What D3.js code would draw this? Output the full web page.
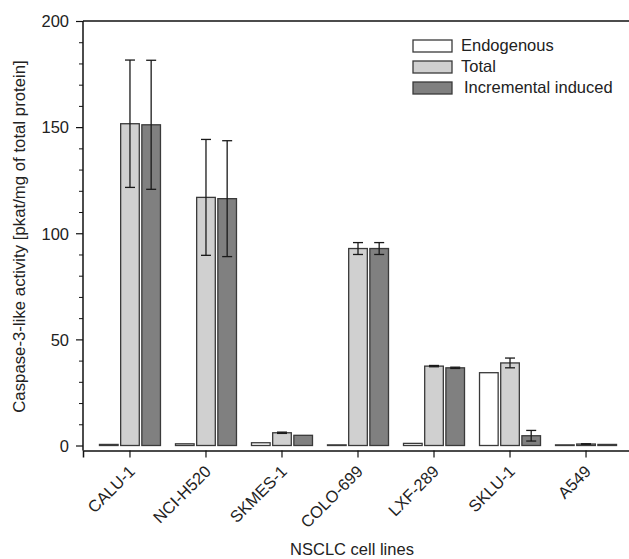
<!DOCTYPE html>
<html>
<head>
<meta charset="utf-8">
<script src="https://cdn.jsdelivr.net/npm/d3@7"></script>
<style>
  body { margin: 0; background: #fff; }
  text { font-family: "Liberation Sans", Arial, sans-serif; fill: #222; }
</style>
</head>
<body>
<div id="chart"></div>
<script>
// data
var cellLines = ["CALU-1", "NCI-H520", "SKMES-1", "COLO-699", "LXF-289", "SKLU-1", "A549"];
var seriesNames = ["Endogenous", "Total", "Incremental induced"];
var endogenous = [0.5, 0.8, 1.3, 0.3, 1.0, 34.3, 0.3];
var endogenousErr = [0, 0, 0, 0, 0, 0, 0];
var total = [151.6, 116.9, 6.0, 92.8, 37.4, 38.9, 0.7];
var totalErr = [30, 27.3, 0.3, 2.8, 0.3, 2.3, 0.1];
var induced = [151.1, 116.3, 4.8, 92.8, 36.6, 4.6, 0.5];
var inducedErr = [30.4, 27.3, 0, 2.8, 0.3, 2.5, 0];
var yTicks = [0, 50, 100, 150, 200];

var seriesValues = [endogenous, total, induced];
var seriesErrors = [endogenousErr, totalErr, inducedErr];
var fills = ["#ffffff", "#d0d0d0", "#808080"];

var svgWidth = 629;
var svgHeight = 559;

var margin = { top: 21, left: 83, bottom: 113.5 };
var plotBottom = svgHeight - margin.bottom;   // y of value 0

var svg = d3.select("#chart")
  .append("svg")
  .attr("width", svgWidth)
  .attr("height", svgHeight);

// scales
var x0 = d3.scaleBand()
  .domain(cellLines)
  .range([margin.left, 633])
  .paddingInner(0)
  .paddingOuter(0.118);

var x1 = d3.scaleBand()
  .domain(d3.range(3))
  .range([-30.5, 30.5])
  .paddingInner(0.12);

var y = d3.scaleLinear()
  .domain([0, 200])
  .range([plotBottom, margin.top]);

// top frame line
svg.append("line")
  .attr("x1", margin.left).attr("x2", svgWidth)
  .attr("y1", y(200)).attr("y2", y(200))
  .attr("stroke", "#111").attr("stroke-width", 1.5);

// y axis, major + minor ticks
var yAxis = svg.append("g")
  .attr("transform", `translate(${margin.left},0)`)
  .call(d3.axisLeft(y).tickValues(yTicks).tickSize(7).tickSizeOuter(0).tickPadding(7));

yAxis.select(".domain")
  .attr("d", `M0,${y(200)}V${plotBottom + 5}`)
  .attr("stroke", "#111").attr("stroke-width", 1.5);
yAxis.selectAll(".tick line").attr("stroke", "#111").attr("stroke-width", 1.2);
yAxis.selectAll(".tick text")
  .style("font-size", "16.5px")
  .attr("dy", "0.35em");

var minorTicks = d3.range(0, 201, 10).filter(d => d % 50 !== 0);
svg.append("g")
  .attr("transform", `translate(${margin.left},0)`)
  .call(d3.axisLeft(y).tickValues(minorTicks).tickSize(4).tickFormat(""))
  .call(g => g.select(".domain").remove())
  .call(g => g.selectAll(".tick line").attr("stroke", "#111").attr("stroke-width", 1));

// x axis, placed a few pixels below zero
var xAxis = svg.append("g")
  .attr("transform", `translate(0,${plotBottom + 5})`)
  .call(d3.axisBottom(x0).tickSize(7).tickSizeOuter(7));

xAxis.select(".domain").attr("stroke", "#111").attr("stroke-width", 1.5);
xAxis.selectAll(".tick line").attr("stroke", "#111").attr("stroke-width", 1.2);
xAxis.selectAll(".tick text")
  .attr("x", 0).attr("y", 0).attr("dy", 0)
  .attr("text-anchor", "end")
  .attr("transform", "translate(6,22) rotate(-45)")
  .style("font-size", "16.5px");

// bars
var groups = svg.selectAll(".cell")
  .data(cellLines)
  .enter()
  .append("g")
  .attr("class", "cell")
  .attr("transform", d => `translate(${x0(d) + x0.bandwidth() / 2},0)`);

groups.each(function(name, i) {
  var g = d3.select(this);
  seriesValues.forEach(function(vals, s) {
    var v = vals[i];
    g.append("rect")
      .attr("x", x1(s))
      .attr("y", y(v))
      .attr("width", x1.bandwidth())
      .attr("height", Math.max(plotBottom - y(v), 0.5))
      .attr("fill", fills[s])
      .attr("stroke", "#3a3a3a")
      .attr("stroke-width", 1.3);

    var e = seriesErrors[s][i];
    if (e > 0) {
      var cx = x1(s) + x1.bandwidth() / 2;
      var err = g.append("g").attr("stroke", "#1a1a1a").attr("stroke-width", 1.3);
      err.append("line")
        .attr("x1", cx).attr("x2", cx)
        .attr("y1", y(v + e)).attr("y2", y(v - e));
      [v + e, v - e].forEach(function(t) {
        err.append("line")
          .attr("x1", cx - 5).attr("x2", cx + 5)
          .attr("y1", y(t)).attr("y2", y(t));
      });
    }
  });
});

// axis titles
svg.append("text")
  .attr("transform", "translate(25, 236.5) rotate(-90)")
  .attr("text-anchor", "middle")
  .style("font-size", "16.8px")
  .text("Caspase-3-like activity [pkat/mg of total protein]");

svg.append("text")
  .attr("x", 352)
  .attr("y", 555)
  .attr("text-anchor", "middle")
  .style("font-size", "16.5px")
  .text("NSCLC cell lines");

// legend
var legend = svg.append("g").attr("transform", "translate(413,40)");
seriesNames.forEach(function(name, s) {
  legend.append("rect")
    .attr("x", 0).attr("y", s * 21)
    .attr("width", 39).attr("height", 12)
    .attr("fill", fills[s])
    .attr("stroke", "#3a3a3a").attr("stroke-width", 1.3);
  legend.append("text")
    .attr("x", s === 2 ? 51 : 48)
    .attr("y", s * 21 + 11)
    .style("font-size", "16.5px")
    .text(name);
});
</script>
</body>
</html>
